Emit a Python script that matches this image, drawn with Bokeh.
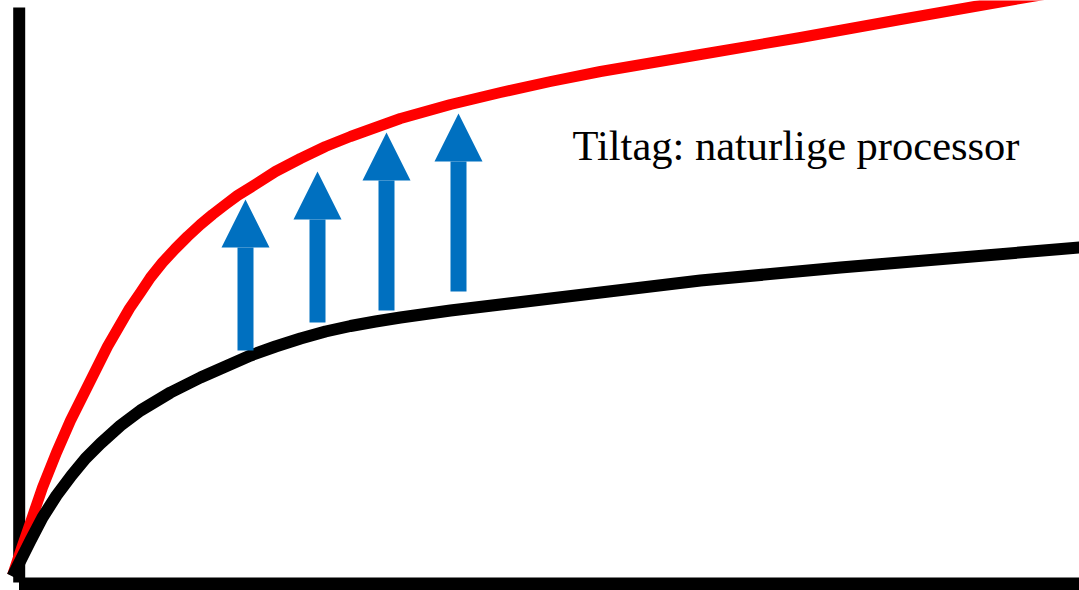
from bokeh.plotting import figure
from bokeh.models import Range1d, Arrow, NormalHead, ColumnDataSource
from bokeh.embed import file_html
from bokeh.resources import INLINE
from bokeh.core.properties import value

# Conceptual curves (origin at the axes corner; units ~ pixels of the drawing)
red_x = [0, 9, 18, 30, 44, 58, 75, 95, 106, 117, 128, 138, 150, 163, 175, 188,
         200, 213, 225, 238, 263, 288, 313, 338, 363, 388, 438, 488, 538, 588,
         688, 788, 888, 996, 1067]
red_y = [1, 28, 54, 89, 124, 156, 190, 230, 249, 268, 284, 299, 314, 328, 340, 352,
         362, 372, 381, 389, 405, 418, 430, 440, 449, 458, 472, 484, 495, 505,
         522, 539, 557, 576, 588]

black_x = [0, 8, 18, 30, 44, 59, 73, 88, 108, 128, 158, 188, 238, 263, 288, 313,
           338, 363, 388, 438, 488, 588, 688, 828, 1067]
black_y = [0, 16, 36, 59, 81, 101, 118, 133, 151, 166, 184, 199, 221, 230, 238, 245,
           250.5, 255, 259, 266, 272, 284, 296, 309, 329]

# Arrows: x position, base, tip
arrow_x = [233, 305, 374, 446]
arrow_base = [226, 254, 266, 285]
arrow_tip = [377, 405, 444, 463]

label = "Tiltag: naturlige processor"
label_x = 560
label_y = 431

BLUE = "#0070C0"

# frame geometry (drawing layout, not data)
V_AXIS = dict(left=0.7, right=12.7, top=569, bottom=-6)
H_AXIS = dict(left=6.5, right=1067, top=-1, bottom=-14)

p = figure(width=1079, height=590,
           x_range=Range1d(-12, 1067), y_range=Range1d(-14, 576),
           output_backend="svg", toolbar_location=None,
           x_axis_location=None, y_axis_location=None,
           min_border=0, background_fill_color="white",
           border_fill_color="white")
p.grid.visible = False
p.outline_line_color = None

# axes as thick bars
p.quad(**{k: [v] for k, v in V_AXIS.items()}, fill_color="black", line_color=None)
p.quad(**{k: [v] for k, v in H_AXIS.items()}, fill_color="black", line_color=None)

p.line(red_x, red_y, line_color="#FF0000", line_width=11, line_join="round")
p.line(black_x, black_y, line_color="black", line_width=12, line_join="round")

src = ColumnDataSource(dict(x=arrow_x, y0=arrow_base, y1=arrow_tip))
p.add_layout(Arrow(end=NormalHead(size=48, fill_color=BLUE, line_color=None),
                   x_start="x", y_start="y0", x_end="x", y_end="y1",
                   source=src, line_color=BLUE, line_width=16, line_cap="butt"))

p.text(x=[label_x], y=[label_y], text=[label],
       text_font=value("Liberation Serif"), text_font_size="42.5px",
       text_baseline="alphabetic", text_align="left", text_color="black")

open("out.html", "w").write(file_html(p, INLINE))
